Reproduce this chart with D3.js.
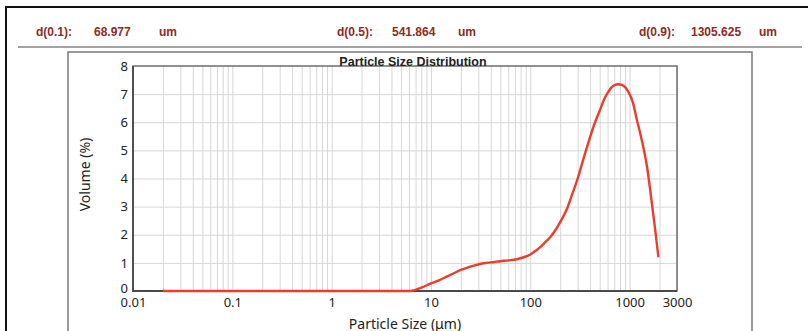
<!DOCTYPE html>
<html>
<head>
<meta charset="utf-8">
<script src="https://cdn.jsdelivr.net/npm/d3@7"></script>
<style>
  body { margin: 0; background: #fff; }
  svg { display: block; }
  .grid line { stroke: #d6d6d6; stroke-width: 1; }
  .grid path { stroke: none; }
  .tick-label { font-family: "Noto Sans", sans-serif; font-size: 13px; fill: #222; }
  .hdr { font-family: "Liberation Sans", Arial, sans-serif; font-size: 12px; font-weight: bold; fill: #8e2a22; }
</style>
</head>
<body>
<div id="chart"></div>
<script>
// particle size (um) and volume (%)
var sizes   = [0.02, 6.2, 8, 10, 12, 14.4, 17, 20, 24, 27, 31, 36.5, 43, 50, 60, 73, 86, 100, 112, 125, 140, 158, 178, 200, 236, 265, 300, 343, 390, 449, 505, 560, 611, 660, 714, 770, 834, 900, 972, 1080, 1181, 1280, 1377, 1500, 1610, 1806, 1950];
var volumes = [0, 0, 0.12, 0.27, 0.38, 0.51, 0.63, 0.75, 0.85, 0.9, 0.96, 1.0, 1.03, 1.06, 1.09, 1.13, 1.2, 1.3, 1.42, 1.55, 1.72, 1.9, 2.15, 2.45, 2.95, 3.45, 4.0, 4.7, 5.35, 6.0, 6.45, 6.85, 7.08, 7.25, 7.33, 7.35, 7.33, 7.25, 7.08, 6.7, 6.1, 5.6, 5.1, 4.4, 3.6, 2.2, 1.2];

var xTickValues = [0.01, 0.1, 1, 10, 100, 1000, 3000];
var xTickLabels = ["0.01", "0.1", "1", "10", "100", "1000", "3000"];
var yTickValues = [0, 1, 2, 3, 4, 5, 6, 7, 8];

var headerLabels = ["d(0.1):", "d(0.5):", "d(0.9):"];
var headerValues = ["68.977", "541.864", "1305.625"];
var headerUnit = "um";

var W = 808, H = 331;
var margin = {top: 66, right: 131, bottom: 40, left: 133},
    width = W - margin.left - margin.right,
    height = 291 - margin.top;

var svg = d3.select("#chart").append("svg")
  .attr("width", W)
  .attr("height", H);

// outer frame, header rule and chart box
svg.append("rect")
  .attr("x", 6).attr("y", 7).attr("width", 900).attr("height", 400)
  .attr("fill", "none").attr("stroke", "#111").attr("stroke-width", 2);

svg.append("line")
  .attr("x1", 18).attr("x2", 802).attr("y1", 47).attr("y2", 47)
  .attr("stroke", "#a3a3a3").attr("stroke-width", 2);

svg.append("rect")
  .attr("x", 68).attr("y", 52).attr("width", 684).attr("height", 400)
  .attr("fill", "none").attr("stroke", "#7a7a7a").attr("stroke-width", 1.5);

// header values
var hdrX = [[36, 94, 159], [337, 392, 458], [639, 691, 759]];
headerLabels.forEach(function(lbl, i) {
  svg.append("text").attr("class", "hdr").attr("x", hdrX[i][0]).attr("y", 36).text(lbl);
  svg.append("text").attr("class", "hdr").attr("x", hdrX[i][1]).attr("y", 36).text(headerValues[i]);
  svg.append("text").attr("class", "hdr").attr("x", hdrX[i][2]).attr("y", 36).text(headerUnit);
});

var x = d3.scaleLog().domain([0.01, 3000]).range([0, width]);
var y = d3.scaleLinear().domain([0, 8]).range([height, 0]);

var chartGroup = svg.append("g")
  .attr("transform", `translate(${margin.left}, ${margin.top})`);

// vertical grid at every 1..9 multiple
chartGroup.append("g")
  .attr("class", "grid")
  .attr("transform", `translate(0, ${height})`)
  .call(d3.axisBottom(x).tickValues(x.ticks()).tickSize(-height).tickFormat(""));

// horizontal grid
chartGroup.append("g")
  .attr("class", "grid")
  .call(d3.axisLeft(y).tickValues(yTickValues.slice(1, -1)).tickSize(-width).tickFormat(""));

// plot border (top/right lighter, left/bottom darker)
chartGroup.append("rect")
  .attr("width", width).attr("height", height)
  .attr("fill", "none").attr("stroke", "#6e6e6e").attr("stroke-width", 1.5);

chartGroup.append("path")
  .attr("d", `M0,0V${height}H${width}`)
  .attr("fill", "none").attr("stroke", "#4a4a4a").attr("stroke-width", 1.8);

// x tick labels
var bottomAxis = d3.axisBottom(x)
  .tickValues(xTickValues)
  .tickSize(0)
  .tickPadding(7)
  .tickFormat(function(d, i) { return xTickLabels[i]; });

var gx = chartGroup.append("g")
  .attr("transform", `translate(0, ${height})`)
  .call(bottomAxis);
gx.select(".domain").remove();
gx.selectAll("text").attr("class", "tick-label").attr("fill", null);

// y tick labels
var leftAxis = d3.axisLeft(y).tickValues(yTickValues).tickSize(0).tickPadding(5).tickFormat(d3.format("d"));
var gy = chartGroup.append("g").call(leftAxis);
gy.select(".domain").remove();
gy.selectAll("text").attr("class", "tick-label").attr("fill", null);
gy.selectAll(".tick").filter(function(d) { return d === 0; })
  .select("text").attr("dy", "0.1em");

// distribution curve
var line = d3.line()
  .x(function(d, i) { return x(d); })
  .y(function(d, i) { return y(volumes[i]); })
  .curve(d3.curveMonotoneX);

chartGroup.append("path")
  .datum(sizes)
  .attr("d", line)
  .attr("fill", "none")
  .attr("stroke", "#ea3d2c")
  .attr("stroke-width", 2.4);

// titles
chartGroup.append("text")
  .attr("x", 280).attr("y", 0)
  .attr("text-anchor", "middle")
  .attr("font-family", "'Liberation Sans', Arial, sans-serif")
  .attr("font-size", "12.5px").attr("font-weight", "bold")
  .attr("fill", "#222")
  .text("Particle Size Distribution");

chartGroup.append("text")
  .attr("x", width / 2).attr("y", height + 38)
  .attr("text-anchor", "middle")
  .attr("font-family", "'Noto Sans', sans-serif")
  .attr("font-size", "14px").attr("fill", "#222")
  .text("Particle Size (μm)");

chartGroup.append("text")
  .attr("transform", `translate(-43, ${height / 2 - 4}) rotate(-90)`)
  .attr("text-anchor", "middle")
  .attr("font-family", "'Noto Sans', sans-serif")
  .attr("font-size", "14px").attr("fill", "#222")
  .text("Volume (%)");
</script>
</body>
</html>
